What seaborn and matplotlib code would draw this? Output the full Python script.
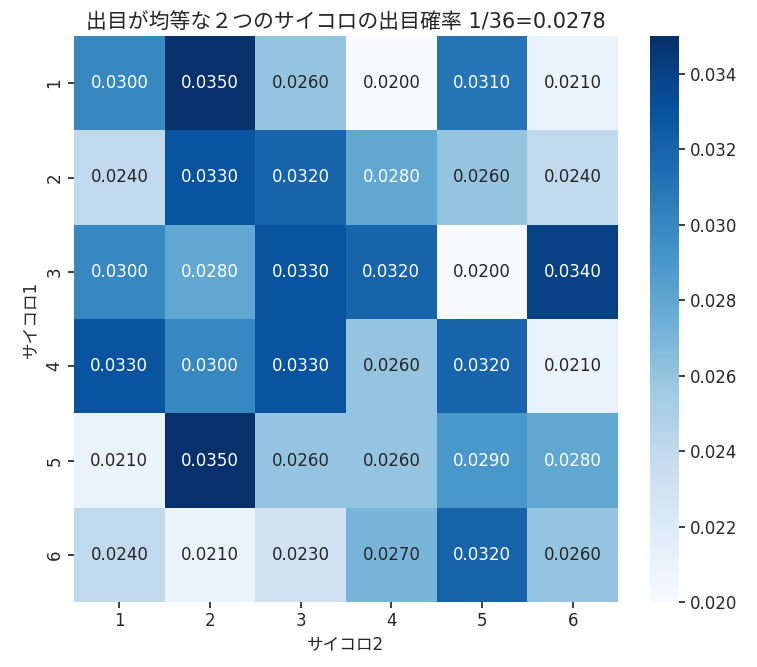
import matplotlib
matplotlib.use('Agg')
import matplotlib.pyplot as plt
import seaborn as sns
import pandas as pd

# dice face labels
dice1 = [1, 2, 3, 4, 5, 6]
dice2 = [1, 2, 3, 4, 5, 6]

# observed probabilities per row (サイコロ1)
row1 = [0.030, 0.035, 0.026, 0.020, 0.031, 0.021]
row2 = [0.024, 0.033, 0.032, 0.028, 0.026, 0.024]
row3 = [0.030, 0.028, 0.033, 0.032, 0.020, 0.034]
row4 = [0.033, 0.030, 0.033, 0.026, 0.032, 0.021]
row5 = [0.021, 0.035, 0.026, 0.026, 0.029, 0.028]
row6 = [0.024, 0.021, 0.023, 0.027, 0.032, 0.026]

df = pd.DataFrame([row1, row2, row3, row4, row5, row6], index=dice1, columns=dice2)

sns.set_theme(style='white')
# Latin glyphs from DejaVu (wide like Meiryo), kana/kanji from Noto CJK
plt.rcParams['font.family'] = ['DejaVu Sans', 'Noto Sans CJK JP']

W, H = 757, 667
fig = plt.figure(figsize=(W / 100, H / 100), dpi=100)
ax = fig.add_axes([74 / W, 1 - 602 / H, 544 / W, 566 / H])
cax = fig.add_axes([650 / W, 1 - 602 / H, 29 / W, 566 / H])

sns.heatmap(df, ax=ax, cbar_ax=cax, cmap='Blues', annot=True, fmt='.4f',
            annot_kws={'fontsize': 12})

ax.set_title('出目が均等な２つのサイコロの出目確率 1/36=0.0278', fontsize=15, pad=6)
ax.set_xlabel('サイコロ2', fontsize=12)
ax.set_ylabel('サイコロ1', fontsize=12)
ax.tick_params(axis='both', labelsize=12, length=4, left=True, bottom=True)
ax.tick_params(axis='y', rotation=90)
cax.tick_params(labelsize=12, length=4, right=True)
cax.set_yticks([0.020, 0.022, 0.024, 0.026, 0.028, 0.030, 0.032, 0.034])
cax.set_yticklabels(['0.020', '0.022', '0.024', '0.026', '0.028', '0.030', '0.032', '0.034'])

fig.savefig('out.png', dpi=100)
